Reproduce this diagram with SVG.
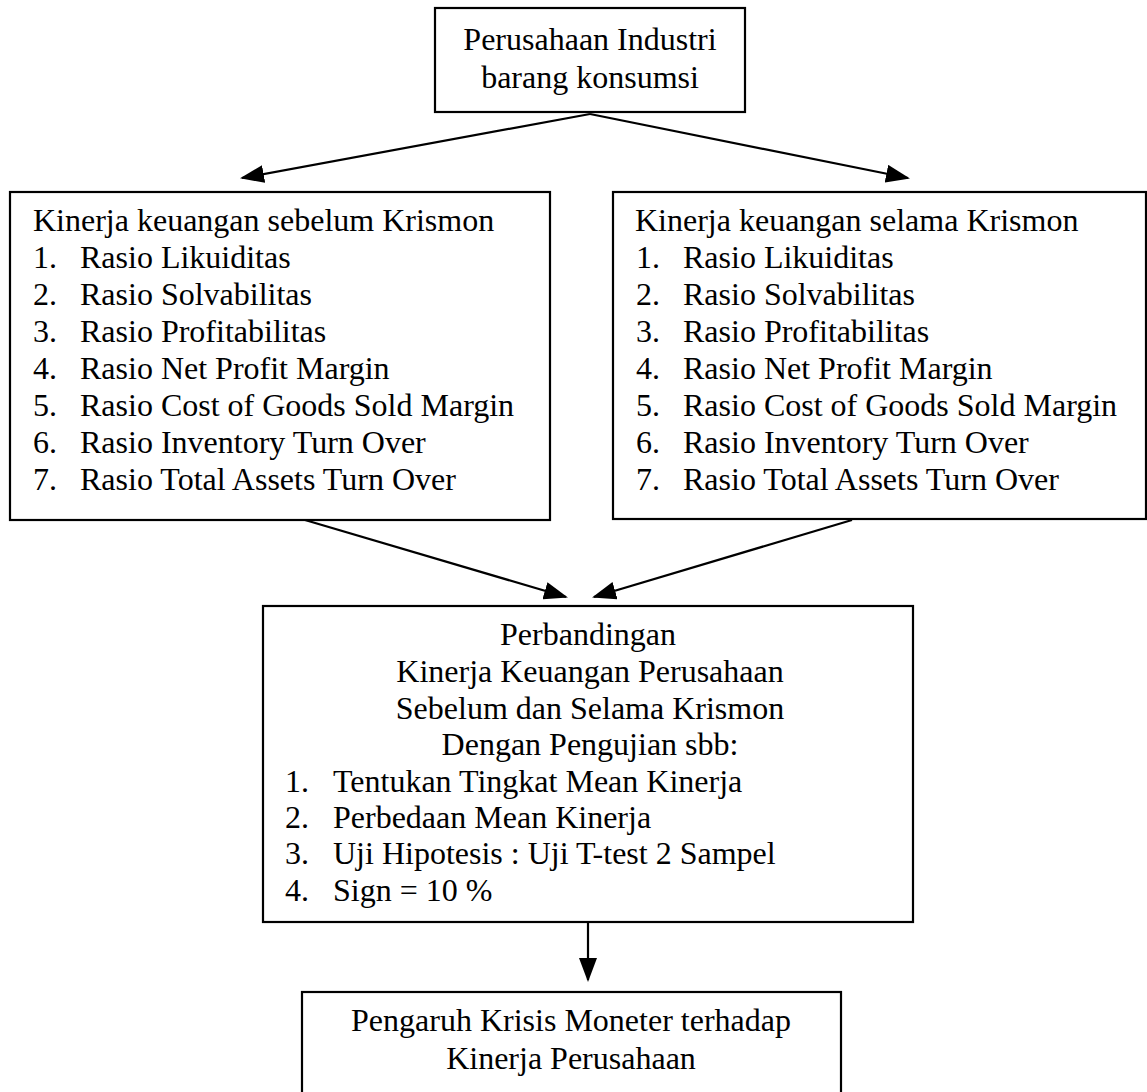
<svg xmlns="http://www.w3.org/2000/svg" width="1147" height="1092" viewBox="0 0 1147 1092">
  <defs>
    <style>
      .box { fill: #ffffff; stroke: #000000; stroke-width: 2.2; }
      .t { font-family: "Liberation Serif", "Times New Roman", serif; font-size: 32px; fill: #000000; }
      .c { text-anchor: middle; }
      .conn { stroke: #000000; stroke-width: 2.2; fill: none; marker-end: url(#arrow); }
    </style>
    <marker id="arrow" markerUnits="userSpaceOnUse" markerWidth="24" markerHeight="18" refX="22" refY="9" orient="auto">
      <path d="M0,0 L24,9 L0,18 z" fill="#000000"/>
    </marker>
  </defs>
  <rect width="1147" height="1092" fill="#ffffff"/>

  <g id="connectors">
    <line class="conn" x1="590" y1="114" x2="242" y2="178"/>
    <line class="conn" x1="590" y1="114" x2="908" y2="178"/>
    <line class="conn" x1="305" y1="520" x2="566" y2="597"/>
    <line class="conn" x1="852" y1="520" x2="594" y2="597"/>
    <line class="conn" x1="588" y1="922" x2="588" y2="980"/>
  </g>

  <g id="node-top">
    <rect class="box" x="435" y="8" width="310" height="104"/>
    <text class="t c" x="590" y="50">Perusahaan Industri</text>
    <text class="t c" x="590" y="88">barang konsumsi</text>
  </g>

  <g id="node-left">
    <rect class="box" x="10" y="192" width="540" height="328"/>
    <text class="t" x="33" y="231">Kinerja keuangan sebelum Krismon</text>
    <text class="t" x="33" y="268">1.</text><text class="t" x="80" y="268">Rasio Likuiditas</text>
    <text class="t" x="33" y="305">2.</text><text class="t" x="80" y="305">Rasio Solvabilitas</text>
    <text class="t" x="33" y="342">3.</text><text class="t" x="80" y="342">Rasio Profitabilitas</text>
    <text class="t" x="33" y="379">4.</text><text class="t" x="80" y="379">Rasio Net Profit Margin</text>
    <text class="t" x="33" y="416">5.</text><text class="t" x="80" y="416">Rasio Cost of Goods Sold Margin</text>
    <text class="t" x="33" y="453">6.</text><text class="t" x="80" y="453">Rasio Inventory Turn Over</text>
    <text class="t" x="33" y="490">7.</text><text class="t" x="80" y="490">Rasio Total Assets Turn Over</text>
  </g>

  <g id="node-right">
    <rect class="box" x="613" y="192" width="533" height="327"/>
    <text class="t" x="635" y="231">Kinerja keuangan selama Krismon</text>
    <text class="t" x="636" y="268">1.</text><text class="t" x="683" y="268">Rasio Likuiditas</text>
    <text class="t" x="636" y="305">2.</text><text class="t" x="683" y="305">Rasio Solvabilitas</text>
    <text class="t" x="636" y="342">3.</text><text class="t" x="683" y="342">Rasio Profitabilitas</text>
    <text class="t" x="636" y="379">4.</text><text class="t" x="683" y="379">Rasio Net Profit Margin</text>
    <text class="t" x="636" y="416">5.</text><text class="t" x="683" y="416">Rasio Cost of Goods Sold Margin</text>
    <text class="t" x="636" y="453">6.</text><text class="t" x="683" y="453">Rasio Inventory Turn Over</text>
    <text class="t" x="636" y="490">7.</text><text class="t" x="683" y="490">Rasio Total Assets Turn Over</text>
  </g>

  <g id="node-middle">
    <rect class="box" x="263" y="606" width="650" height="316"/>
    <text class="t c" x="588" y="645">Perbandingan</text>
    <text class="t c" x="590" y="682">Kinerja Keuangan Perusahaan</text>
    <text class="t c" x="590" y="719">Sebelum dan Selama Krismon</text>
    <text class="t c" x="590" y="755">Dengan Pengujian sbb:</text>
    <text class="t" x="285" y="792">1.</text><text class="t" x="333" y="792">Tentukan Tingkat Mean Kinerja</text>
    <text class="t" x="285" y="828">2.</text><text class="t" x="333" y="828">Perbedaan Mean Kinerja</text>
    <text class="t" x="285" y="864">3.</text><text class="t" x="333" y="864">Uji Hipotesis : Uji T-test 2 Sampel</text>
    <text class="t" x="285" y="901">4.</text><text class="t" x="333" y="901">Sign = 10 %</text>
  </g>

  <g id="node-bottom">
    <rect class="box" x="302" y="992" width="539" height="112"/>
    <text class="t c" x="571" y="1031">Pengaruh Krisis Moneter terhadap</text>
    <text class="t c" x="571" y="1069">Kinerja Perusahaan</text>
  </g>
</svg>
